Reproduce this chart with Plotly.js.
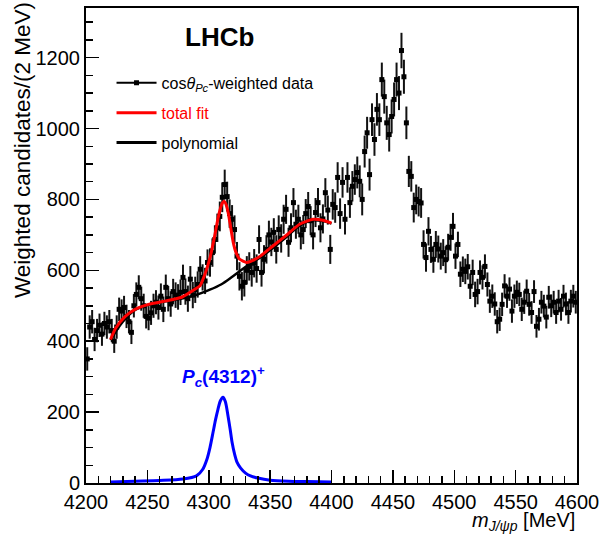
<!DOCTYPE html>
<html>
<head>
<meta charset="utf-8">
<script src="https://cdn.plot.ly/plotly-3.0.1.min.js"></script>
<style>html,body{margin:0;padding:0;background:#fff;}#chart{width:604px;height:536px;}</style>
</head>
<body>
<div id="chart"></div>
<script>
// cos(theta_Pc)-weighted data, 2 MeV bins starting at 4200 MeV
var binLow = 4200;
var binWidth = 2;
var counts = [
  350, 440, 455, 405, 430, 445, 420, 450, 440, 455,
  430, 400, 440, 490, 485, 495, 470, 455, 425, 500,
  532, 552, 520, 500, 470, 465, 480, 500, 510, 495,
  527, 490, 552, 520, 505, 540, 530, 525, 538, 580,
  540, 520, 575, 530, 545, 560, 603, 580, 570, 622,
  622, 650, 687, 720, 752, 806, 842, 808, 760, 744,
  715, 640, 583, 555, 566, 600, 611, 594, 620, 605,
  687, 594, 631, 659, 700, 680, 707, 659, 715, 690,
  744, 772, 679, 720, 791, 730, 744, 700, 715, 760,
  780, 740, 700, 763, 791, 720, 745, 819, 770, 659,
  786, 777, 862, 760, 848, 744, 862, 791, 837, 856,
  876, 851, 800, 935, 988, 870, 1025, 969, 1054, 1025,
  1138, 1090, 1016, 983, 1034, 1082, 1138, 1100, 1220, 1146,
  1016, 879, 865, 777, 800, 794, 790, 673, 636, 710,
  659, 631, 673, 660, 640, 650, 630, 665, 693, 724,
  640, 673, 589, 603, 597, 610, 555, 594, 532, 540,
  594, 580, 611, 560, 513, 527, 505, 455, 462, 504,
  556, 527, 547, 485, 527, 538, 532, 490, 510, 541,
  504, 481, 540, 442, 462, 510, 499, 468, 524, 500,
  510, 481, 513, 490, 527, 505, 481, 513, 527, 510
];
var errors = [
  33, 33, 33, 33, 33, 33, 33, 33, 33, 33,
  33, 33, 33, 33, 33, 33, 33, 33, 33, 33,
  34, 34, 34, 34, 34, 34, 34, 34, 34, 34,
  36, 36, 36, 36, 36, 36, 36, 36, 36, 36,
  37, 37, 37, 37, 37, 37, 37, 37, 37, 37,
  40, 40, 40, 40, 42, 42, 42, 42, 40, 40,
  40, 40, 40, 40, 40, 40, 40, 40, 40, 40,
  40, 40, 40, 40, 40, 40, 40, 40, 40, 40,
  41, 41, 41, 41, 41, 41, 41, 41, 41, 41,
  41, 41, 41, 41, 41, 41, 41, 41, 41, 41,
  43, 43, 43, 43, 43, 43, 43, 43, 43, 43,
  45, 45, 45, 45, 45, 45, 46, 46, 46, 46,
  48, 48, 48, 48, 48, 48, 48, 48, 50, 48,
  46, 44, 43, 42, 42, 42, 42, 40, 40, 40,
  38, 38, 38, 38, 38, 38, 38, 38, 38, 38,
  36, 36, 36, 36, 36, 36, 36, 36, 36, 36,
  34, 34, 34, 34, 33, 33, 33, 33, 33, 33,
  33, 33, 33, 33, 33, 33, 33, 33, 33, 33,
  32, 32, 32, 32, 32, 32, 32, 32, 32, 32,
  32, 32, 32, 32, 32, 32, 32, 32, 32, 32
];
var binCenters = counts.map(function (_, i) { return binLow + binWidth * (i + 0.5); });

// total fit (red)
var totX = [4220, 4224, 4232, 4240, 4251, 4264, 4278, 4289, 4293, 4297, 4301, 4303, 4305, 4307, 4309, 4311, 4312.5, 4314, 4316, 4318, 4320, 4322, 4325, 4331, 4336, 4342, 4352, 4364, 4374, 4385, 4393, 4400];
var totY = [405, 436, 470, 490, 504, 513, 524, 547, 557, 590, 635, 666, 700, 737, 768, 789, 795, 787, 760, 718, 678, 652, 632, 622, 628, 640, 668, 701, 730, 744, 741, 733];
// polynomial background (black)
var polyX = [4220, 4230, 4240, 4250, 4260, 4270, 4280, 4290, 4300, 4310, 4320, 4331, 4342, 4352, 4364, 4374, 4385, 4393, 4400];
var polyY = [403, 455, 488, 502, 510, 515, 522, 531, 544, 560, 584, 612, 636, 662, 696, 726, 741, 739, 732];
// Pc(4312)+ component (blue)
var pcX = [4220, 4240, 4260, 4279, 4290, 4295, 4298.6, 4301, 4303.5, 4305.5, 4307.5, 4309.5, 4311.6, 4313.5, 4315.7, 4317.5, 4319, 4321, 4323, 4326, 4330, 4334, 4340, 4350, 4365, 4380, 4400];
var pcY = [3, 5, 7, 11, 20, 38, 68, 100, 143, 178, 208, 232, 242, 230, 189, 150, 115, 82, 59, 42, 28, 20, 14, 8, 5, 4, 3];

var FONT = 'Liberation Sans, Arial, Helvetica, sans-serif';

var traces = [
  // legend-only entries
  {x: [null], y: [null], type: 'scatter', mode: 'lines+markers', name: 'cos<i>θ</i><sub><i>Pc</i></sub>-weighted data',
   legendgroup: 'g1', line: {color: 'black', width: 2}, marker: {symbol: 'square', size: 5, color: 'black'}, hoverinfo: 'skip'},
  {x: [null], y: [null], type: 'scatter', mode: 'lines', name: '<span style="color:#ff0000">total fit</span>',
   legendgroup: 'g2', line: {color: '#ff0000', width: 3}, hoverinfo: 'skip'},
  {x: [null], y: [null], type: 'scatter', mode: 'lines', name: 'polynomial',
   legendgroup: 'g3', line: {color: 'black', width: 3}, hoverinfo: 'skip'},
  // real marks
  {x: binCenters, y: counts, type: 'scatter', mode: 'markers', showlegend: false,
   marker: {symbol: 'square', size: 5, color: 'black'},
   error_y: {type: 'data', array: errors, visible: true, color: '#111', thickness: 2, width: 0}},
  {x: polyX, y: polyY, type: 'scatter', mode: 'lines', showlegend: false,
   line: {color: 'black', width: 2.5, shape: 'spline', smoothing: 1}},
  {x: pcX, y: pcY, type: 'scatter', mode: 'lines', showlegend: false,
   line: {color: '#0000ff', width: 3, shape: 'spline', smoothing: 0.8}},
  {x: totX, y: totY, type: 'scatter', mode: 'lines', showlegend: false,
   line: {color: '#ff0000', width: 3, shape: 'spline', smoothing: 0.6}}
];

var axisCommon = {
  showgrid: false, zeroline: false, showline: true, linecolor: 'black', linewidth: 2, mirror: true,
  ticks: 'inside', tickcolor: 'black', tickwidth: 1.5, ticklen: 13,
  tickfont: {family: FONT, size: 20, color: 'black'}
};

var layout = {
  width: 604, height: 536,
  margin: {l: 86, r: 27, t: 8, b: 53},
  paper_bgcolor: 'white', plot_bgcolor: 'white',
  showlegend: true,
  legend: {x: 0.052, y: 0.878, xanchor: 'left', yanchor: 'top', bgcolor: 'rgba(0,0,0,0)',
           font: {family: FONT, size: 16, color: 'black'}, traceorder: 'grouped', tracegroupgap: 6, itemwidth: 40},
  xaxis: Object.assign({}, axisCommon, {
    range: [4200, 4600], dtick: 50, tick0: 4200,
    minor: {dtick: 10, ticks: 'inside', ticklen: 7, tickcolor: 'black', tickwidth: 1.5}
  }),
  yaxis: Object.assign({}, axisCommon, {
    range: [0, 1340], dtick: 200, tick0: 0,
    minor: {dtick: 50, ticks: 'inside', ticklen: 7, tickcolor: 'black', tickwidth: 1.5}
  }),
  annotations: [
    {text: '<b>LHCb</b>', xref: 'paper', yref: 'paper', x: 0.271, y: 0.939, xanchor: 'center', yanchor: 'middle',
     showarrow: false, font: {family: FONT, size: 26, color: 'black'}},
    {text: '<b><i>P</i><sub><i>c</i></sub>(4312)<sup>+</sup></b>', xref: 'x', yref: 'y', x: 4312, y: 300,
     xanchor: 'center', yanchor: 'middle', showarrow: false, font: {family: FONT, size: 19, color: '#0000ff'}},
    {text: 'Weighted candidates/(2 MeV)', xref: 'paper', yref: 'paper', x: 0, y: 1, xanchor: 'center', yanchor: 'top',
     xshift: -64, yshift: 8, textangle: -90, showarrow: false, font: {family: FONT, size: 22.5, color: 'black'}},
    {text: '<i>m</i><sub><i>J/ψp</i></sub> [MeV]', xref: 'paper', yref: 'paper', x: 1, y: 0, xanchor: 'right', yanchor: 'top',
     yshift: -24, showarrow: false, font: {family: FONT, size: 20, color: 'black'}}
  ]
};

Plotly.newPlot('chart', traces, layout, {displayModeBar: false, staticPlot: true});
</script>
</body>
</html>
